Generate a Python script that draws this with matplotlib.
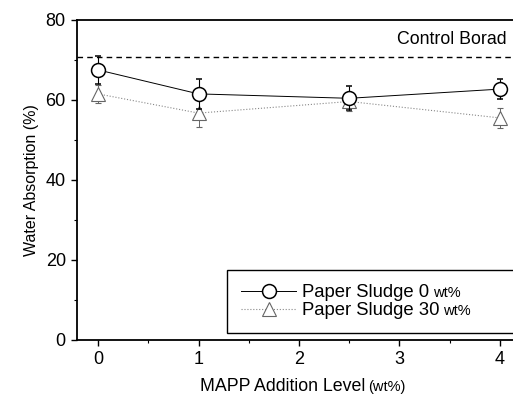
import matplotlib.pyplot as plt
from matplotlib.lines import Line2D
from matplotlib.ticker import MultipleLocator

plt.rcParams['font.family'] = ['Liberation Sans', 'DejaVu Sans']

# MAPP hozzaadas szintje (wt%)
mapp = [0, 1, 2.5, 4]
sludge0 = [67.5, 61.5, 60.4, 62.7]
sludge0_err = [3.5, 3.7, 3.0, 2.5]
sludge30 = [61.5, 56.7, 59.6, 55.5]
sludge30_err = [2.3, 3.4, 2.4, 2.5]
control = 70.7
labels = ['Paper Sludge 0', 'Paper Sludge 30']

fig = plt.figure(figsize=(5.13, 3.98), dpi=100)
ax = fig.add_axes([0.150, 0.146, 0.85, 0.804])

st0 = dict(color='black', lw=0.7, marker='o', ms=10, mfc='white', mec='black', mew=1.1)
st30 = dict(color='#888888', lw=0.8, ls=':', marker='^', ms=10, mfc='white', mec='#666666', mew=0.8)
ax.errorbar(mapp, sludge0, yerr=sludge0_err, capsize=2.5, elinewidth=0.8, zorder=3, **st0)
ax.errorbar(mapp, sludge30, yerr=sludge30_err, capsize=2.5, elinewidth=0.7, ecolor='#666666', zorder=2, **st30)
ax.axhline(control, color='black', ls=(0, (4, 3)), lw=1.0)
ax.text(4.07, 75, 'Control Borad', ha='right', va='center', fontsize=12.8)

ax.set_xlim(-0.21, 4.13)
ax.set_ylim(0, 80)
ax.xaxis.set_major_locator(MultipleLocator(1))
ax.xaxis.set_minor_locator(MultipleLocator(0.5))
ax.yaxis.set_major_locator(MultipleLocator(20))
ax.yaxis.set_minor_locator(MultipleLocator(10))
ax.tick_params(which='both', direction='out', labelsize=13)
ax.tick_params(which='major', length=4.5, width=1)
ax.tick_params(which='minor', length=2.5, width=0.8)
ax.spines['right'].set_visible(False)
for s in ['left', 'bottom', 'top']:
    ax.spines[s].set_linewidth(1.3)

ax.set_ylabel('Water Absorption (%)', fontsize=11.5, labelpad=5)
ax.set_xlabel('MAPP Addition Level', fontsize=12.8, labelpad=7)
ax.xaxis.label.set_x(0.471)

handles = [Line2D([], [], **st0), Line2D([], [], **st30)]
leg = ax.legend(handles, labels, loc='lower left', mode='expand',
                bbox_to_anchor=(0.344, 0.022, 0.7, 0.3), borderaxespad=0,
                fontsize=13.3, fancybox=False, edgecolor='black', framealpha=1,
                handlelength=3.0, handletextpad=0.3, borderpad=0.75,
                labelspacing=0.05)
leg.get_frame().set_linewidth(1.0)

# kisebb "wt%" a feliratok utan
fig.canvas.draw()
for t in leg.get_texts():
    bb = t.get_window_extent()
    fig.text(bb.x1 + 4, bb.y0 + 4, 'wt%', fontsize=10.5, transform=None, va='baseline')
xl = ax.xaxis.label.get_window_extent()
fig.text(xl.x1 + 3, xl.y0 + 4, '(wt%)', fontsize=10.5, transform=None, va='baseline')

fig.savefig('out.png', dpi=100)
